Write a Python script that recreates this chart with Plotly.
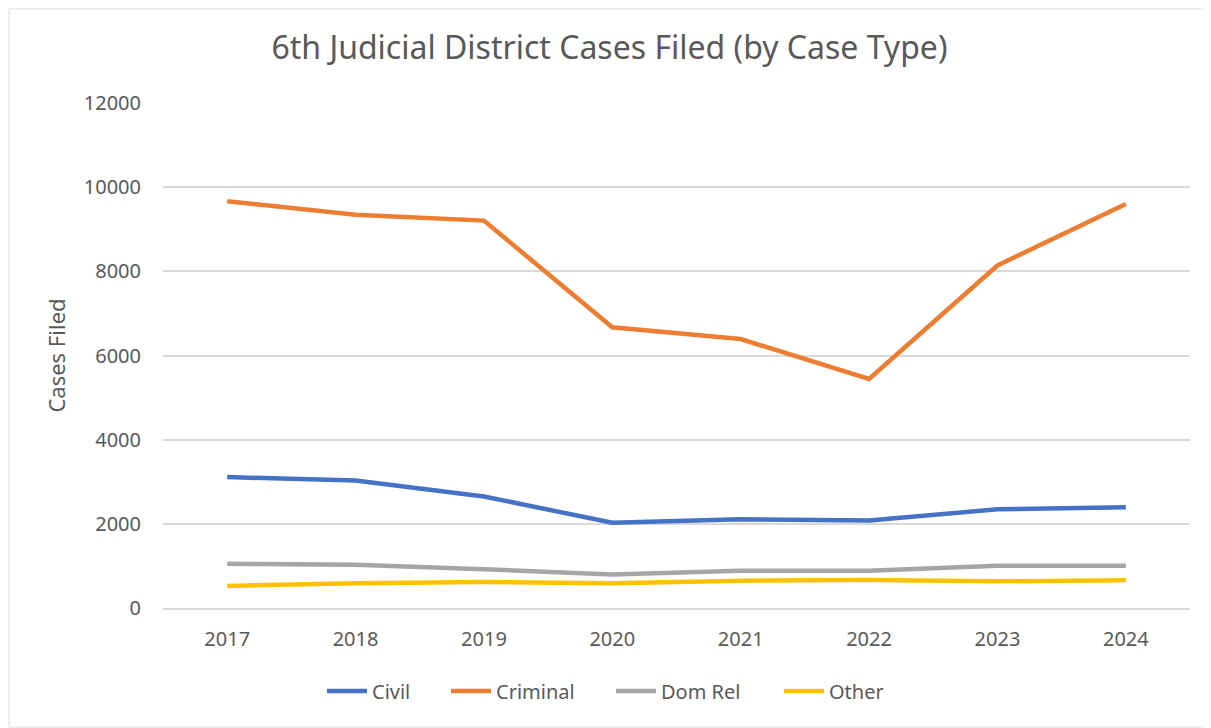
import plotly.graph_objects as go

years = ["2017", "2018", "2019", "2020", "2021", "2022", "2023", "2024"]
civil = [3110, 3030, 2650, 2025, 2110, 2080, 2345, 2395]
criminal = [9665, 9345, 9205, 6670, 6390, 5445, 8140, 9600]
dom_rel = [1050, 1030, 920, 795, 885, 885, 1005, 1005]
other = [525, 590, 620, 590, 650, 665, 635, 658]

series = [
    ("Civil", civil, "#4472C4"),
    ("Criminal", criminal, "#ED7D31"),
    ("Dom Rel", dom_rel, "#A5A5A5"),
    ("Other", other, "#FFC000"),
]

# page body adds an 8px margin, so the figure is sized to fit the window
W, H = 1203, 720
ml, mr, mt, mb = 155, 21, 95, 120
pw = W - ml - mr
ph = H - mt - mb

# window x where each legend swatch should start
legend_starts = [330, 454, 619, 787]
legend_offset = 8  # legend box left edge to swatch start (approx.)

fig = go.Figure()
legend_ids = ["legend", "legend2", "legend3", "legend4"]
for (name, vals, color), lid in zip(series, legend_ids):
    fig.add_trace(go.Scatter(
        x=years, y=vals, name=name, mode="lines", legend=lid,
        line=dict(color=color, width=4.5, shape="linear"),
    ))

font_family = "Noto Sans, Open Sans, sans-serif"
legend_y = -(683 - (H - mb)) / ph
legend_layouts = {}
for lid, start in zip(legend_ids, legend_starts):
    legend_layouts[lid] = dict(
        orientation="h", x=(start - 8 - legend_offset - ml) / pw, xanchor="left",
        y=legend_y, yanchor="middle",
        font=dict(size=20, color="#595959", family=font_family),
        itemwidth=40, bgcolor="rgba(0,0,0,0)",
    )

fig.update_layout(
    width=W, height=H,
    margin=dict(l=ml, r=mr, t=mt, b=mb),
    paper_bgcolor="white", plot_bgcolor="white",
    font=dict(family=font_family, color="#595959", size=20),
    title=dict(text="6th Judicial District Cases Filed (by Case Type)",
               x=0.5, xanchor="center", y=1 - 40 / H, yanchor="middle",
               font=dict(size=32, color="#595959")),
    xaxis=dict(type="category", range=[-0.5, 7.5], showgrid=False,
               showline=True, linecolor="#d9d9d9", linewidth=1.5,
               ticks="", ticklabelstandoff=12,
               tickfont=dict(size=20, color="#595959")),
    yaxis=dict(range=[0, 12000], dtick=2000, showgrid=True,
               gridcolor="#d9d9d9", gridwidth=1.5, zeroline=False,
               showline=False, ticks="", tickformat="d",
               ticklabelstandoff=21,
               title=dict(text="Cases Filed", font=dict(size=22, color="#595959"),
                          standoff=12),
               tickfont=dict(size=20, color="#595959")),
    showlegend=True,
    **legend_layouts,
)

# outer chart border
fig.add_shape(type="rect", xref="paper", yref="paper",
              x0=-(ml - 1) / pw, x1=1 + (mr - 1) / pw,
              y0=-(mb - 1) / ph, y1=1 + (mt - 1) / ph,
              line=dict(color="#d9d9d9", width=1), layer="below")

fig.write_html("out.html")
